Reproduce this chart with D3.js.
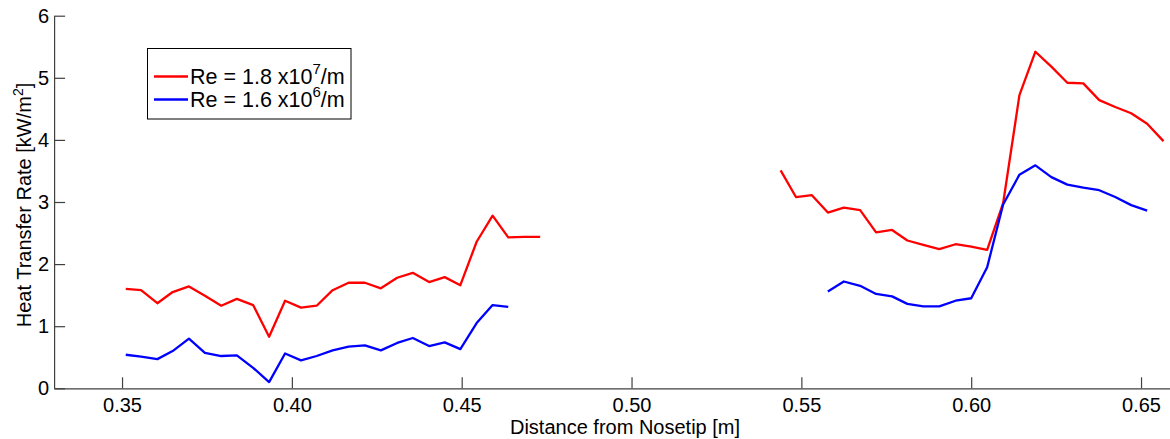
<!DOCTYPE html>
<html>
<head>
<meta charset="utf-8">
<script src="https://d3js.org/d3.v7.min.js"></script>
<style>
  html, body { margin: 0; padding: 0; background: #fff; }
  svg { display: block; font-family: "Liberation Sans", Arial, sans-serif; }
</style>
</head>
<body>
<svg id="chart" width="1170" height="439"></svg>
<script>
// ---- data ----
const xTicks = [0.35, 0.40, 0.45, 0.50, 0.55, 0.60, 0.65];
const yTicks = [0, 1, 2, 3, 4, 5, 6];

const redLeftX = [0.3511, 0.3556, 0.3604, 0.3649, 0.3697, 0.3744, 0.3792, 0.3838, 0.3886, 0.3933,
  0.3980, 0.4027, 0.4073, 0.4120, 0.4167, 0.4215, 0.4262, 0.4310, 0.4356, 0.4404,
  0.4450, 0.4496, 0.4544, 0.4591, 0.4637, 0.4684, 0.4731];
const redLeftY = [1.60, 1.58, 1.37, 1.55, 1.64, 1.49, 1.33, 1.44, 1.34, 0.83,
  1.41, 1.30, 1.33, 1.58, 1.70, 1.70, 1.61, 1.78, 1.86, 1.71,
  1.79, 1.66, 2.36, 2.78, 2.43, 2.44, 2.44];

const blueLeftX = [0.3511, 0.3556, 0.3604, 0.3649, 0.3697, 0.3744, 0.3792, 0.3838, 0.3886, 0.3933,
  0.3980, 0.4027, 0.4073, 0.4120, 0.4167, 0.4215, 0.4262, 0.4310, 0.4356, 0.4404,
  0.4450, 0.4496, 0.4544, 0.4591, 0.4637];
const blueLeftY = [0.54, 0.51, 0.47, 0.60, 0.80, 0.57, 0.52, 0.53, 0.33, 0.10,
  0.56, 0.45, 0.52, 0.61, 0.67, 0.69, 0.61, 0.73, 0.81, 0.68,
  0.74, 0.63, 1.05, 1.34, 1.31];

const redRightX = [0.5439, 0.5484, 0.5531, 0.5578, 0.5625, 0.5673, 0.5720, 0.5767, 0.5812, 0.5859,
  0.5906, 0.5954, 0.6000, 0.6047, 0.6094, 0.6142, 0.6189, 0.6236, 0.6283, 0.6330,
  0.6377, 0.6424, 0.6471, 0.6518, 0.6566];
const redRightY = [3.51, 3.08, 3.11, 2.83, 2.91, 2.87, 2.51, 2.55, 2.38, 2.31,
  2.24, 2.32, 2.28, 2.23, 2.98, 4.72, 5.42, 5.18, 4.92, 4.91,
  4.64, 4.53, 4.43, 4.26, 3.98];

const blueRightX = [0.5578, 0.5625, 0.5673, 0.5720, 0.5767, 0.5812, 0.5859, 0.5906, 0.5954, 0.6000,
  0.6047, 0.6094, 0.6142, 0.6189, 0.6236, 0.6283, 0.6330, 0.6377, 0.6424, 0.6471, 0.6518];
const blueRightY = [1.56, 1.72, 1.65, 1.52, 1.48, 1.36, 1.32, 1.32, 1.41, 1.45,
  1.95, 2.96, 3.44, 3.59, 3.40, 3.28, 3.23, 3.19, 3.08, 2.95, 2.86];

const seriesNames = ["Re = 1.8 x10", "Re = 1.6 x10"];
const seriesExp = ["7", "6"];
const seriesColors = ["#ff0000", "#0000ff"];

// ---- chart ----
const svg = d3.select("#chart");
const x = d3.scaleLinear().domain([0.33, 0.66]).range([54.1, 1175]);
const y = d3.scaleLinear().domain([0, 6]).range([388.3, 15.7]);

const axisColor = "#404040";

const xAxis = svg.append("g")
  .attr("transform", `translate(0,${y(0)})`)
  .call(d3.axisBottom(x).tickValues(xTicks).tickFormat(d3.format(".2f"))
    .tickSizeInner(-11).tickSizeOuter(0).tickPadding(10));
const yAxis = svg.append("g")
  .attr("transform", `translate(${x(0.33)},0)`)
  .call(d3.axisLeft(y).tickValues(yTicks).tickFormat(d3.format("d"))
    .tickSizeInner(-11).tickSizeOuter(0).tickPadding(5));

[xAxis, yAxis].forEach(g => {
  g.selectAll("path.domain").attr("stroke", axisColor).attr("stroke-width", 1.2);
  g.selectAll(".tick line").attr("stroke", axisColor).attr("stroke-width", 1.2);
  g.selectAll(".tick text").attr("fill", "#000").attr("font-size", 20)
    .attr("font-family", "'Liberation Sans', Arial, sans-serif");
});

// axis titles
svg.append("text")
  .attr("x", 625).attr("y", 434)
  .attr("text-anchor", "middle").attr("font-size", 20).attr("fill", "#000")
  .text("Distance from Nosetip [m]");

const yl = svg.append("text")
  .attr("transform", "translate(31,205) rotate(-90)")
  .attr("text-anchor", "middle").attr("font-size", 20).attr("fill", "#000");
yl.append("tspan").text("Heat Transfer Rate [kW/m");
yl.append("tspan").attr("font-size", 14).attr("dy", -8).text("2");
yl.append("tspan").attr("dy", 8).text("]");

// lines
const line = d3.line().x(d => x(d[0])).y(d => y(d[1]));
const segs = [
  [redLeftX, redLeftY, seriesColors[0]],
  [blueLeftX, blueLeftY, seriesColors[1]],
  [redRightX, redRightY, seriesColors[0]],
  [blueRightX, blueRightY, seriesColors[1]]
];
segs.forEach(([xs, ys, c]) => {
  svg.append("path")
    .datum(xs.map((v, i) => [v, ys[i]]))
    .attr("fill", "none").attr("stroke", c)
    .attr("stroke-width", 2.3).attr("stroke-linejoin", "round")
    .attr("d", line);
});

// legend
const lg = svg.append("g");
lg.append("rect").attr("x", 147.5).attr("y", 48.5).attr("width", 203.5).attr("height", 70.5)
  .attr("fill", "#fff").attr("stroke", "#000").attr("stroke-width", 1);
const rowsY = [76.5, 99.5];
seriesNames.forEach((name, i) => {
  lg.append("line").attr("x1", 154).attr("x2", 188).attr("y1", rowsY[i]).attr("y2", rowsY[i])
    .attr("stroke", seriesColors[i]).attr("stroke-width", 2.3);
  const t = lg.append("text").attr("x", 190).attr("y", rowsY[i] + 7)
    .attr("font-size", 21.5).attr("fill", "#000");
  t.append("tspan").text(name);
  t.append("tspan").attr("font-size", 15).attr("dy", -10).text(seriesExp[i]);
  t.append("tspan").attr("dy", 10).text("/m");
});
</script>
</body>
</html>
